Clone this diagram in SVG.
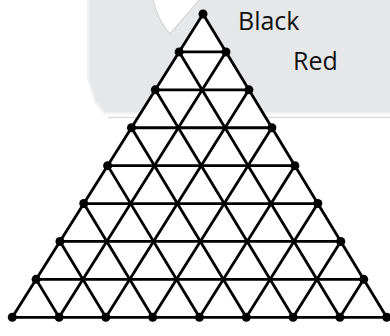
<svg xmlns="http://www.w3.org/2000/svg" width="390" height="336" viewBox="0 0 390 336">
<style>
.bg{fill:#e6e7e8;stroke:#f2f2f2;stroke-width:2}
.lbl{font-family:"Open Sans","Liberation Sans",sans-serif;font-size:25px;fill:#111}
.ln{stroke:#000;stroke-width:2.8;stroke-linecap:round;fill:none}
.dot{fill:#000}
</style>
<rect width="390" height="336" fill="#fff"/>
<g id="background">
<path class="bg" d="M88,-2 L88,78 L95,102 L104,113 L392,113 L392,-2 Z"/>
<line x1="108" y1="117.5" x2="390" y2="117.5" stroke="#dcdcdc" stroke-width="1.5"/>
<path d="M153,-1 C156,14 162,25 170,34 L200,-1 Z" fill="#fff" stroke="#d6d6d6" stroke-width="1.2"/>
</g>
<g id="triangle-fill">
<polygon points="203,14 12.28,317.28 386.68,317.28" fill="#fff"/>
</g>
<g id="connectors" class="ln">
<line x1="179.16" y1="51.91" x2="225.96" y2="51.91"/>
<line x1="155.32" y1="89.82" x2="248.92" y2="89.82"/>
<line x1="131.48" y1="127.73" x2="271.88" y2="127.73"/>
<line x1="107.64" y1="165.64" x2="294.84" y2="165.64"/>
<line x1="83.8" y1="203.55" x2="317.8" y2="203.55"/>
<line x1="59.96" y1="241.46" x2="340.76" y2="241.46"/>
<line x1="36.12" y1="279.37" x2="363.72" y2="279.37"/>
<line x1="12.28" y1="317.28" x2="386.68" y2="317.28"/>
<line x1="203" y1="14" x2="12.28" y2="317.28"/>
<line x1="225.96" y1="51.91" x2="59.08" y2="317.28"/>
<line x1="248.92" y1="89.82" x2="105.88" y2="317.28"/>
<line x1="271.88" y1="127.73" x2="152.68" y2="317.28"/>
<line x1="294.84" y1="165.64" x2="199.48" y2="317.28"/>
<line x1="317.8" y1="203.55" x2="246.28" y2="317.28"/>
<line x1="340.76" y1="241.46" x2="293.08" y2="317.28"/>
<line x1="363.72" y1="279.37" x2="339.88" y2="317.28"/>
<line x1="203" y1="14" x2="386.68" y2="317.28"/>
<line x1="179.16" y1="51.91" x2="339.88" y2="317.28"/>
<line x1="155.32" y1="89.82" x2="293.08" y2="317.28"/>
<line x1="131.48" y1="127.73" x2="246.28" y2="317.28"/>
<line x1="107.64" y1="165.64" x2="199.48" y2="317.28"/>
<line x1="83.8" y1="203.55" x2="152.68" y2="317.28"/>
<line x1="59.96" y1="241.46" x2="105.88" y2="317.28"/>
<line x1="36.12" y1="279.37" x2="59.08" y2="317.28"/>
</g>
<g id="nodes" class="dot">
<circle id="n0" cx="203" cy="14" r="4.5"/>
<circle id="n1l" cx="179.16" cy="51.91" r="4.5"/>
<circle id="n1r" cx="225.96" cy="51.91" r="4.5"/>
<circle id="n2l" cx="155.32" cy="89.82" r="4.5"/>
<circle id="n2r" cx="248.92" cy="89.82" r="4.5"/>
<circle id="n3l" cx="131.48" cy="127.73" r="4.5"/>
<circle id="n3r" cx="271.88" cy="127.73" r="4.5"/>
<circle id="n4l" cx="107.64" cy="165.64" r="4.5"/>
<circle id="n4r" cx="294.84" cy="165.64" r="4.5"/>
<circle id="n5l" cx="83.8" cy="203.55" r="4.5"/>
<circle id="n5r" cx="317.8" cy="203.55" r="4.5"/>
<circle id="n6l" cx="59.96" cy="241.46" r="4.5"/>
<circle id="n6r" cx="340.76" cy="241.46" r="4.5"/>
<circle id="n7l" cx="36.12" cy="279.37" r="4.5"/>
<circle id="n7r" cx="363.72" cy="279.37" r="4.5"/>
<circle id="n80" cx="12.28" cy="317.28" r="4.5"/>
<circle id="n81" cx="59.08" cy="317.28" r="4.5"/>
<circle id="n82" cx="105.88" cy="317.28" r="4.5"/>
<circle id="n83" cx="152.68" cy="317.28" r="4.5"/>
<circle id="n84" cx="199.48" cy="317.28" r="4.5"/>
<circle id="n85" cx="246.28" cy="317.28" r="4.5"/>
<circle id="n86" cx="293.08" cy="317.28" r="4.5"/>
<circle id="n87" cx="339.88" cy="317.28" r="4.5"/>
<circle id="n88" cx="386.68" cy="317.28" r="4.5"/>
</g>
<g id="labels">
<text id="label-black" class="lbl" x="238" y="30">Black</text>
<text id="label-red" class="lbl" x="293" y="70">Red</text>
</g>
</svg>
